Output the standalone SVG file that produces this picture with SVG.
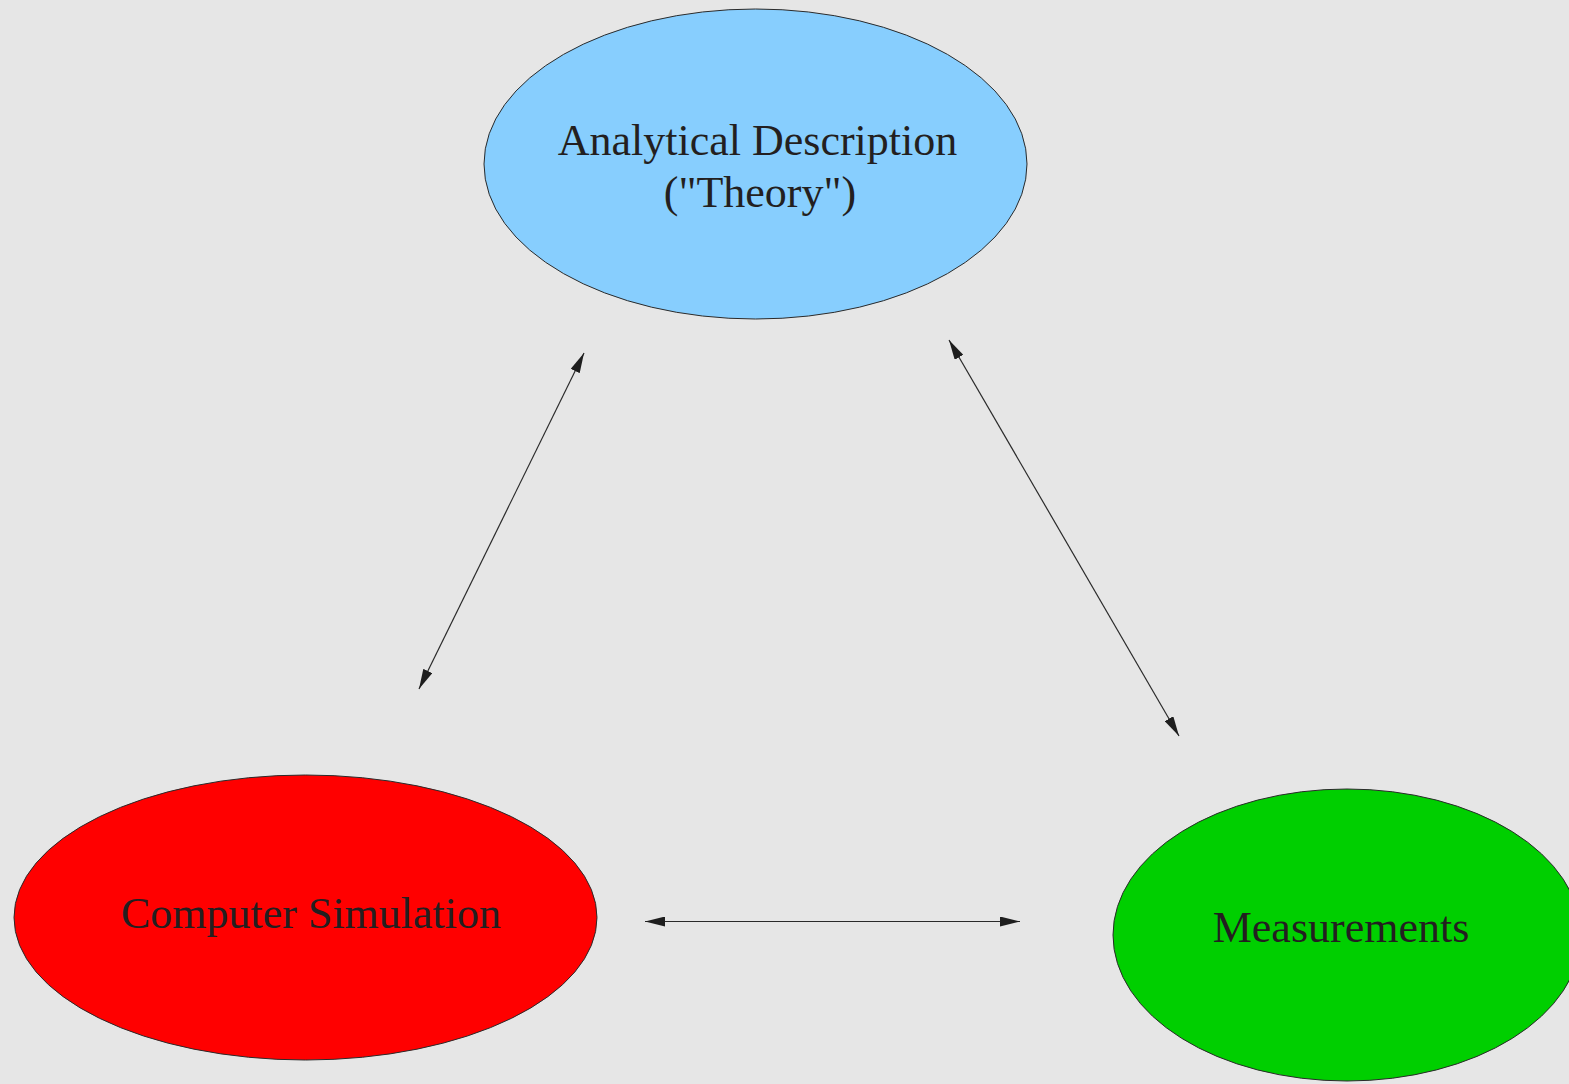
<svg xmlns="http://www.w3.org/2000/svg" width="1569" height="1084" viewBox="0 0 1569 1084">
<style>
.node{stroke:#2a2a2a;stroke-width:1}
.lbl{font-family:"Liberation Serif","Times New Roman",serif;font-size:44px;fill:#231f20;text-anchor:middle}
.conn{stroke:#2a2a2a;stroke-width:1.2;fill:none;marker-start:url(#ah);marker-end:url(#ah)}
</style>
<defs>
<marker id="ah" markerUnits="userSpaceOnUse" markerWidth="20" markerHeight="10" refX="20" refY="5" orient="auto-start-reverse" viewBox="0 0 20 10">
<path d="M0,0 L20,5 L0,10 Z" fill="#1e1e1e"/>
</marker>
</defs>
<rect width="1569" height="1084" fill="#e6e6e6"/>
<g id="theory">
<ellipse class="node" cx="755.5" cy="164" rx="271.5" ry="155" fill="#87cefe"/>
<text class="lbl" x="757.5" y="155">Analytical Description</text>
<text class="lbl" x="760" y="207">("Theory")</text>
</g>
<g id="simulation">
<ellipse class="node" cx="305.5" cy="917.5" rx="291.5" ry="142.5" fill="#ff0000"/>
<text class="lbl" x="311" y="928">Computer Simulation</text>
</g>
<g id="measurements">
<ellipse class="node" cx="1347" cy="935" rx="234" ry="146" fill="#00cf00"/>
<text class="lbl" x="1341" y="942">Measurements</text>
</g>
<g id="connectors">
<line class="conn" x1="419" y1="689" x2="584" y2="353"/>
<line class="conn" x1="949" y1="340" x2="1179" y2="736"/>
<line class="conn" x1="645" y1="921.5" x2="1020" y2="921.5"/>
</g>
</svg>
